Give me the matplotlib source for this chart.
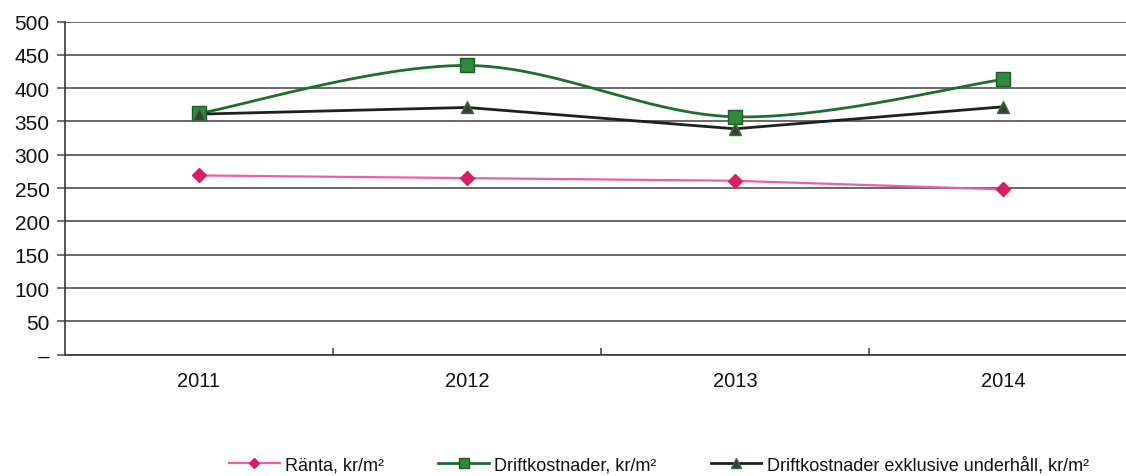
import numpy as np
import matplotlib
matplotlib.use("Agg")
import matplotlib.pyplot as plt
from matplotlib.lines import Line2D

plt.rcParams['font.family'] = ['Liberation Sans', 'DejaVu Sans']

years = ["2011", "2012", "2013", "2014"]
ranta = [269, 265, 261, 248]
drift = [362, 434, 357, 413]
drift_excl = [361, 371, 339, 372]
yticks = [0, 50, 100, 150, 200, 250, 300, 350, 400, 450, 500]
ytick_labels = ["–", "50", "100", "150", "200", "250", "300", "350", "400", "450", "500"]

labels = ["Ränta, kr/m²", "Driftkostnader, kr/m²", "Driftkostnader exklusive underhåll, kr/m²"]

W, H = 1126, 477
fig = plt.figure(figsize=(W / 100, H / 100), dpi=100)
ax = fig.add_axes([65 / W, 1 - 355.7 / H, 1072 / W, (355.7 - 22.5) / H])

x = np.arange(len(years))


def smooth(xs, ys, n=40):
    xs = np.asarray(xs, float)
    ys = np.asarray(ys, float)
    P = np.column_stack([xs, ys])
    Pp = np.vstack([P[0], P, P[-1]])
    out = []
    for i in range(len(P) - 1):
        p0, p1, p2, p3 = Pp[i], Pp[i + 1], Pp[i + 2], Pp[i + 3]
        c1 = p1 + (p2 - p0) / 6
        c2 = p2 - (p3 - p1) / 6
        t = np.linspace(0, 1, n)[:, None]
        seg = ((1 - t) ** 3) * p1 + 3 * ((1 - t) ** 2) * t * c1 + 3 * (1 - t) * t ** 2 * c2 + t ** 3 * p2
        out.append(seg if i == 0 else seg[1:])
    out = np.vstack(out)
    return out[:, 0], out[:, 1]


for yv in yticks:
    ax.axhline(yv, color="#3f3f3f", lw=1.1, zorder=1)

pink_line = "#EE5FA0"
pink_mark = "#D81E63"
green_line = "#1E6E2E"
green_mark = "#2F8A3E"
black_line = "#1F1F1F"

ax.plot(x, ranta, color=pink_line, lw=1.6, zorder=3)
ax.plot(x, ranta, ls="none", marker="D", ms=7, mfc=pink_mark, mec=pink_mark, zorder=4)

sx, sy = smooth(x, drift)
ax.plot(sx, sy, color=green_line, lw=2.0, zorder=3)
ax.plot(x, drift, ls="none", marker="s", ms=10, mfc=green_mark, mec="#1f5a28", mew=1, zorder=4)

ax.plot(x, drift_excl, color=black_line, lw=2.0, zorder=3)
ax.plot(x, drift_excl, ls="none", marker="^", ms=9, mfc="#3b3b3b", mec="#3d6b3d", mew=1, zorder=5)

ax.set_xlim(-0.5, 3.5)
ax.set_ylim(0, 500)
ax.set_yticks(yticks)
ax.set_yticklabels(ytick_labels)
ax.set_xticks(x)
ax.set_xticklabels(years)
ax.set_xticks(np.arange(len(years)) + 0.5, minor=True)

for s in ["top", "right"]:
    ax.spines[s].set_visible(False)
for s in ["left", "bottom"]:
    ax.spines[s].set_color("#3a3a3a")
    ax.spines[s].set_linewidth(1.2)

ax.tick_params(axis="y", direction="out", length=6, width=1.1, color="#4a4a4a",
               labelsize=15, pad=5, labelcolor="#111111")
ax.tick_params(axis="x", which="major", length=0, labelsize=14.5, pad=12, labelcolor="#111111")
ax.tick_params(axis="x", which="minor", direction="in", length=5, width=1.1, color="#3a3a3a")

handles = [
    Line2D([], [], color=pink_line, lw=1.6, marker="D", ms=5.5, mfc=pink_mark, mec=pink_mark),
    Line2D([], [], color=green_line, lw=2.0, marker="s", ms=7, mfc=green_mark, mec="#1f5a28"),
    Line2D([], [], color=black_line, lw=2.0, marker="^", ms=7, mfc="#3b3b3b", mec="#3d6b3d"),
]
fig.legend(handles, labels, loc="center", bbox_to_anchor=(659 / W, 1 - 466 / H), ncol=3,
           frameon=False, fontsize=13, handlelength=2.8, handletextpad=0.3,
           columnspacing=3.0, labelcolor="#111111", borderpad=0.0)

fig.savefig("out.png", dpi=100, facecolor="white")
